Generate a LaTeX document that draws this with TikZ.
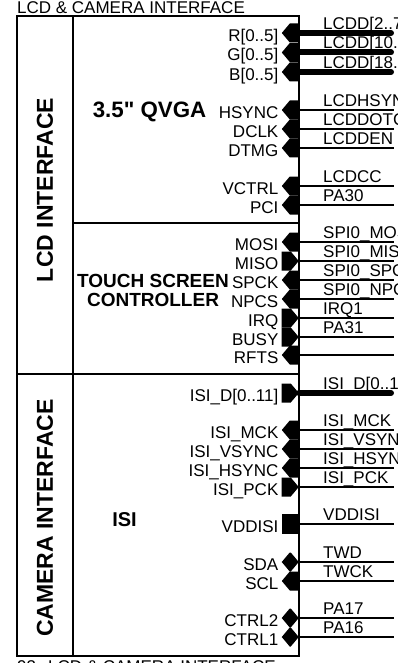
\documentclass[tikz,border=0pt]{standalone}
\usepackage{fontspec}
\setmainfont{Liberation Sans}[Ligatures=TeXOff]
\usetikzlibrary{positioning,shapes.symbols}
\newcommand\pinsize{\fontsize{17}{19}\selectfont}
\newcommand\headsize{\fontsize{22.3}{24}\selectfont\bfseries}
\newcommand\sidesize{\fontsize{23}{26}\selectfont\bfseries}

\begin{document}
\begin{tikzpicture}[x=1pt, y=-1pt,
  frame/.style={line width=1.3pt},
  pin/.style={shape=signal, fill=black, draw=none, inner sep=0pt, minimum width=17pt, minimum height=19pt, signal pointer angle=100, anchor=east},
  pinin/.style={pin, signal to=west},
  pinout/.style={pin, signal to=east},
  pinbi/.style={pin, signal to=west and east},
  pinpw/.style={fill=black, inner sep=0pt, minimum width=17pt, minimum height=20pt, anchor=east},
  lbl/.style={font=\pinsize, inner sep=0pt, text height=12pt, text depth=0pt, yshift=-2.5pt},
  sig/.style={font=\pinsize, inner sep=0pt, anchor=base west, yshift=3.5pt},
  wire/.style={line width=1.2pt},
  bus/.style={line width=6pt, line cap=round}]
\useasboundingbox (0,0) rectangle (398,663);
\clip (0,0) rectangle (398,663);
\coordinate (rim) at (394,0); \coordinate (rimb) at (391,0); \coordinate (sigx) at (323,0);
% frame and panels
\draw[frame] (17,16) rectangle (299,656);
\draw[frame] (73,16) -- (73,656);
\draw[frame] (73,223) -- (299,223);
\draw[frame] (17,374) -- (299,374);
\node[font=\pinsize, anchor=west, inner sep=0pt] (title) at (17,8) {LCD \& CAMERA INTERFACE};
\node[font=\pinsize, anchor=west, inner sep=0pt] (foot) at (17,667) {93\hspace{12pt}LCD \& CAMERA INTERFACE};
\node[rotate=90, font=\sidesize] (lcd) at (45,190) {LCD INTERFACE};
\node[rotate=90, font=\sidesize] (cam) at (45,518) {CAMERA INTERFACE};
\node[font=\headsize] (qvga) at (149.5,112) {3.5" QVGA};
\node[font=\fontsize{19}{19}\selectfont\bfseries, align=center] (touch) at (153,290.5) {TOUCH SCREEN\\CONTROLLER};
\node[font=\fontsize{20}{22}\selectfont\bfseries] (isi) at (124.5,520) {ISI};
% lcd pins
\node[pinin] (pR) at (299,33) {}; \node[lbl, left=3pt of pR] (lR) {R[0..5]};
\draw[bus] (pR.east) -- (pR.east -| rimb); \node[sig] (sR) at (pR.east -| sigx) {LCDD[2..7]};
\node[pinin] (pG) at (299,52.5) {}; \node[lbl, left=3pt of pG] (lG) {G[0..5]};
\draw[bus] (pG.east) -- (pG.east -| rimb); \node[sig] (sG) at (pG.east -| sigx) {LCDD[10..15]};
\node[pinin] (pB) at (299,72) {}; \node[lbl, left=3pt of pB] (lB) {B[0..5]};
\draw[bus] (pB.east) -- (pB.east -| rimb); \node[sig] (sB) at (pB.east -| sigx) {LCDD[18..23]};
\node[pinin] (pHS) at (299,110) {}; \node[lbl, left=3pt of pHS] (lHS) {HSYNC};
\draw[wire] (pHS.east) -- (pHS.east -| rim); \node[sig] (sHS) at (pHS.east -| sigx) {LCDHSYNC};
\node[pinin] (pDC) at (299,129) {}; \node[lbl, left=3pt of pDC] (lDC) {DCLK};
\draw[wire] (pDC.east) -- (pDC.east -| rim); \node[sig] (sDC) at (pDC.east -| sigx) {LCDDOTCK};
\node[pinin] (pDT) at (299,148) {}; \node[lbl, left=3pt of pDT] (lDT) {DTMG};
\draw[wire] (pDT.east) -- (pDT.east -| rim); \node[sig] (sDT) at (pDT.east -| sigx) {LCDDEN};
\node[pinin] (pVC) at (299,186) {}; \node[lbl, left=3pt of pVC] (lVC) {VCTRL};
\draw[wire] (pVC.east) -- (pVC.east -| rim); \node[sig] (sVC) at (pVC.east -| sigx) {LCDCC};
\node[pinin] (pPC) at (299,205) {}; \node[lbl, left=3pt of pPC] (lPC) {PCI};
\draw[wire] (pPC.east) -- (pPC.east -| rim); \node[sig] (sPC) at (pPC.east -| sigx) {PA30};
% touch screen pins
\node[pinin] (pMO) at (299,242) {}; \node[lbl, left=3pt of pMO] (lMO) {MOSI};
\draw[wire] (pMO.east) -- (pMO.east -| rim); \node[sig] (sMO) at (pMO.east -| sigx) {SPI0\_MOSI};
\node[pinout] (pMI) at (299,261) {}; \node[lbl, left=3pt of pMI] (lMI) {MISO};
\draw[wire] (pMI.east) -- (pMI.east -| rim); \node[sig] (sMI) at (pMI.east -| sigx) {SPI0\_MISO};
\node[pinin] (pSC) at (299,280) {}; \node[lbl, left=3pt of pSC] (lSC) {SPCK};
\draw[wire] (pSC.east) -- (pSC.east -| rim); \node[sig] (sSC) at (pSC.east -| sigx) {SPI0\_SPCK};
\node[pinin] (pNP) at (299,299) {}; \node[lbl, left=3pt of pNP] (lNP) {NPCS};
\draw[wire] (pNP.east) -- (pNP.east -| rim); \node[sig] (sNP) at (pNP.east -| sigx) {SPI0\_NPCS0};
\node[pinout] (pIR) at (299,318) {}; \node[lbl, left=3pt of pIR] (lIR) {IRQ};
\draw[wire] (pIR.east) -- (pIR.east -| rim); \node[sig] (sIR) at (pIR.east -| sigx) {IRQ1};
\node[pinout] (pBU) at (299,337) {}; \node[lbl, left=3pt of pBU] (lBU) {BUSY};
\draw[wire] (pBU.east) -- (pBU.east -| rim); \node[sig] (sBU) at (pBU.east -| sigx) {PA31};
\node[pinin] (pRF) at (299,355) {}; \node[lbl, left=3pt of pRF] (lRF) {RFTS};
\draw[wire] (pRF.east) -- (pRF.east -| rim);
% camera pins
\node[pinout] (pID) at (299,393) {}; \node[lbl, left=3pt of pID] (lID) {ISI\_D[0..11]};
\draw[bus] (pID.east) -- (pID.east -| rimb); \node[sig] (sID) at (pID.east -| sigx) {ISI\_D[0..11]};
\node[pinin] (pMC) at (299,430) {}; \node[lbl, left=3pt of pMC] (lMC) {ISI\_MCK};
\draw[wire] (pMC.east) -- (pMC.east -| rim); \node[sig] (sMC) at (pMC.east -| sigx) {ISI\_MCK};
\node[pinin] (pVS) at (299,449) {}; \node[lbl, left=3pt of pVS] (lVS) {ISI\_VSYNC};
\draw[wire] (pVS.east) -- (pVS.east -| rim); \node[sig] (sVS) at (pVS.east -| sigx) {ISI\_VSYNC};
\node[pinin] (pHY) at (299,468) {}; \node[lbl, left=3pt of pHY] (lHY) {ISI\_HSYNC};
\draw[wire] (pHY.east) -- (pHY.east -| rim); \node[sig] (sHY) at (pHY.east -| sigx) {ISI\_HSYNC};
\node[pinout] (pPK) at (299,487) {}; \node[lbl, left=3pt of pPK] (lPK) {ISI\_PCK};
\draw[wire] (pPK.east) -- (pPK.east -| rim); \node[sig] (sPK) at (pPK.east -| sigx) {ISI\_PCK};
\node[pinpw] (pVD) at (299,524) {}; \node[lbl, left=3pt of pVD] (lVD) {VDDISI};
\draw[wire] (pVD.east) -- (pVD.east -| rim); \node[sig] (sVD) at (pVD.east -| sigx) {VDDISI};
\node[pinbi] (pSD) at (299,562) {}; \node[lbl, left=3pt of pSD] (lSD) {SDA};
\draw[wire] (pSD.east) -- (pSD.east -| rim); \node[sig] (sSD) at (pSD.east -| sigx) {TWD};
\node[pinin] (pSL) at (299,581) {}; \node[lbl, left=3pt of pSL] (lSL) {SCL};
\draw[wire] (pSL.east) -- (pSL.east -| rim); \node[sig] (sSL) at (pSL.east -| sigx) {TWCK};
\node[pinbi] (pC2) at (299,618) {}; \node[lbl, left=3pt of pC2] (lC2) {CTRL2};
\draw[wire] (pC2.east) -- (pC2.east -| rim); \node[sig] (sC2) at (pC2.east -| sigx) {PA17};
\node[pinbi] (pC1) at (299,637) {}; \node[lbl, left=3pt of pC1] (lC1) {CTRL1};
\draw[wire] (pC1.east) -- (pC1.east -| rim); \node[sig] (sC1) at (pC1.east -| sigx) {PA16};
\end{tikzpicture}
\end{document}
